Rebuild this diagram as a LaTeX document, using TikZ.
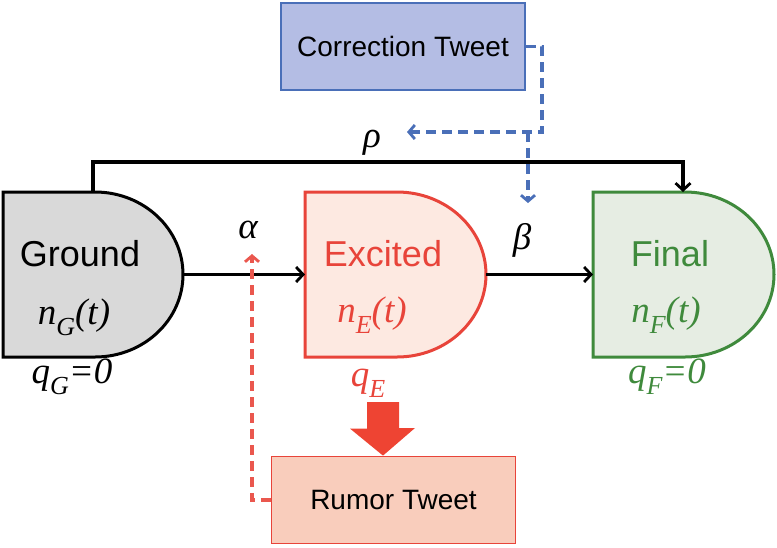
\documentclass[tikz,border=0pt]{standalone}
\usepackage{fontspec}
\setmainfont{Liberation Sans}
\newfontfamily\serifit{Liberation Serif}[UprightFont=*-Italic]
\usetikzlibrary{arrows.meta}
\definecolor{grfill}{HTML}{D9D9D9}
\definecolor{exred}{HTML}{E8443A}
\definecolor{exfill}{HTML}{FDE9E1}
\definecolor{fngreen}{HTML}{3F8A3C}
\definecolor{fnfill}{HTML}{E6EDE3}
\definecolor{ctfill}{HTML}{B4BDE4}
\definecolor{ctblue}{HTML}{4A6FB8}
\definecolor{rtfill}{HTML}{F9CDBC}
\definecolor{bigred}{HTML}{EE4433}
\newcommand{\subsc}[1]{\raisebox{-0.3em}{\fontsize{26}{26}\selectfont #1}}
\begin{document}
\begin{tikzpicture}[x=1pt,y=-1pt,
  dshape/.style={line width=3pt},
  conn/.style={line width=3.2pt,-{Straight Barb[length=7pt,width=15pt,line width=2.8pt]}},
  dashblue/.style={line width=3.2pt,ctblue,dash pattern=on 10pt off 6pt,-{Straight Barb[length=6pt,width=14pt,line width=2.8pt]}},
  dashred/.style={line width=3.2pt,exred!90!white,dash pattern=on 10pt off 6pt,-{Straight Barb[length=6pt,width=14pt,line width=2.8pt]}},
  bigtxt/.style={font=\fontsize{36}{36}\selectfont},
  mtxt/.style={font=\fontsize{37}{37}\selectfont\serifit},
  boxtxt/.style={font=\fontsize{28}{28}\selectfont},
  tweetbox/.style={line width=1.8pt,minimum width=244pt,minimum height=87pt,inner sep=0pt}]
\useasboundingbox (0,0) rectangle (777,547);
% Ground
\draw[dshape,fill=grfill] (3,192) -- (95,192)
  arc[start angle=-90,end angle=90,x radius=88,y radius=82.5] -- (3,357) -- cycle;
\coordinate (Gr) at (183,274.5);
\coordinate (Gt) at (93,192);
% Excited
\draw[dshape,draw=exred,fill=exfill] (305,192) -- (397,192)
  arc[start angle=-90,end angle=90,x radius=89,y radius=82.5] -- (305,357) -- cycle;
\coordinate (El) at (305,274.5);
\coordinate (Er) at (486,274.5);
% Final
\draw[dshape,draw=fngreen,fill=fnfill] (593,192) -- (685,192)
  arc[start angle=-90,end angle=90,x radius=89,y radius=82.5] -- (593,357) -- cycle;
\coordinate (Fl) at (593,274.5);
\coordinate (Ft) at (683,192);
% texts in shapes
\node[bigtxt] (gt) at (80,254) {Ground};
\node[mtxt] (gn) at (74,317) {n\subsc{G}(t)};
\node[mtxt] (gq) at (72,377) {q\subsc{G}=0};
\node[bigtxt,text=exred] (et) at (383,254) {Excited};
\node[mtxt,text=exred] (en) at (372,315) {n\subsc{E}(t)};
\node[mtxt,text=exred] (eq) at (368,383) {q\subsc{E}};
\node[bigtxt,text=fngreen] (ft) at (670,254) {Final};
\node[mtxt,text=fngreen] (fn) at (666,315) {n\subsc{F}(t)};
\node[mtxt,text=fngreen] (fq) at (667,377) {q\subsc{F}=0};
% labels
\node[mtxt] (alpha) at (248,230) {α};
\node[mtxt] (beta) at (522,240) {β};
\node[mtxt] (rho) at (372,143) {ρ};
% tweet boxes
\node[tweetbox,draw=ctblue,fill=ctfill,boxtxt] (ct) at (403,46.5) {Correction Tweet};
\node[tweetbox,draw=exred,fill=rtfill,boxtxt] (rt) at (393.5,500) {Rumor Tweet};
% connectors
\draw[conn] (Gr) -- (El);
\draw[conn] (Er) -- (Fl);
\coordinate (rc) at (93,162);
\draw[conn] (Gt) -- (rc) -| (Ft);
% blue dashed
\coordinate (bc) at (542,132);
\coordinate (bl) at (407,132);
\coordinate (bs) at (528,132);
\coordinate (bt) at (528,203);
\draw[dashblue] (ct.east) -| (bc) -- (bl);
\draw[dashblue] (bs) -- (bt);
% red dashed
\coordinate (rtip) at (252,254);
\draw[dashred] (rt.west) -| (rtip);
% big red arrow
\coordinate (ba) at (383,402);
\fill[bigred] (ba) ++(-16,0) -- ++(32,0) -- ++(0,26) -- ++(16,0) -- (rt.north -| ba) -- ++(-33,-27) -- ++(17,0) -- cycle;
\end{tikzpicture}
\end{document}
